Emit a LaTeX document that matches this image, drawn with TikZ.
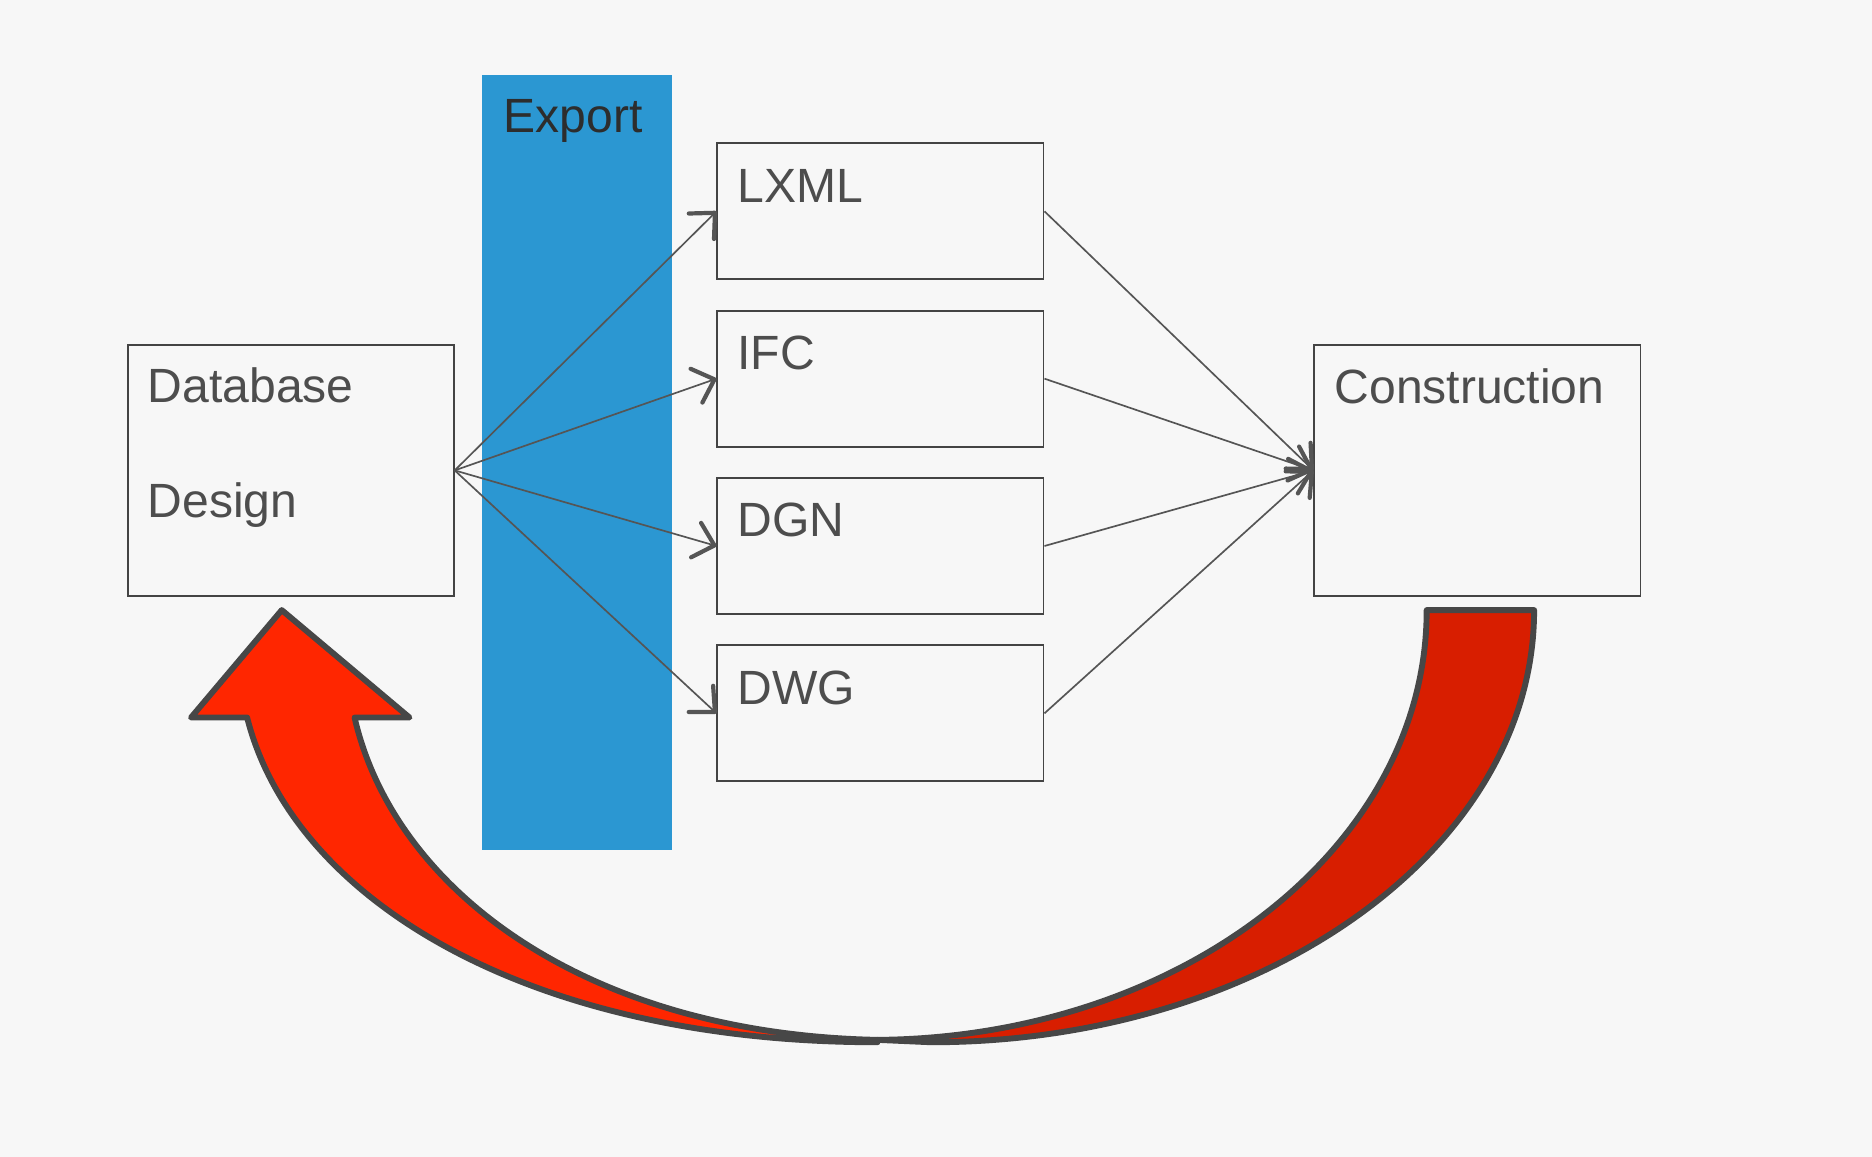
\documentclass[tikz,border=0pt]{standalone}
\usepackage{fontspec}
\setmainfont{Liberation Sans}
\usetikzlibrary{arrows.meta,positioning}

\definecolor{bgcol}{HTML}{F7F7F7}
\definecolor{bandcol}{HTML}{2B97D2}
\definecolor{txtcol}{HTML}{4D4D4D}
\definecolor{exportcol}{HTML}{2D2D2D}
\definecolor{edgecol}{HTML}{444444}
\definecolor{linecol}{HTML}{555555}
\definecolor{redleft}{HTML}{FF2600}
\definecolor{redright}{HTML}{D81E00}
\definecolor{rimcol}{HTML}{474747}

\begin{document}
\begin{tikzpicture}[
        x=0.01cm, y=-0.01cm,
        % Styles des boites
        fmtbox/.style={rectangle, draw=edgecol, line width=0.45pt, fill=bgcol, minimum width=2.73cm, minimum height=1.14cm, inner sep=0pt},
        bigbox/.style={fmtbox, minimum height=2.10cm},
        band/.style={rectangle, fill=bandcol, minimum width=1.59cm, minimum height=6.49cm, inner sep=0pt},
        lbl/.style={font=\fontsize{11.45}{27.3}\selectfont, text=txtcol, inner sep=0pt, anchor=base west},
        % Style des connecteurs
        conn/.style={draw=linecol, line width=0.4pt, -{Straight Barb[length=1.6mm, width=3mm, line width=1pt, round]}},
        returnarrow/.style={draw=rimcol, line width=1.4pt, line join=round}
    ]

    \useasboundingbox[fill=bgcol] (0,0) rectangle (1568,969);

    % Bande Export
    \node[band] (export) at (483.5,387.5) {};
    \node[lbl, text=exportcol] (exportlbl) at ([xshift=0.18cm, yshift=-0.49cm]export.north west) {Export};

    % Boites de formats
    \node[fmtbox] (lxml) at (737.5,177) {};
    \node[fmtbox, below=0.245cm of lxml] (ifc) {};
    \node[fmtbox, below=0.245cm of ifc] (dgn) {};
    \node[fmtbox, below=0.245cm of dgn] (dwg) {};
    \node[lbl] (lxmllbl) at ([xshift=0.17cm, yshift=-0.50cm]lxml.north west) {LXML};
    \node[lbl] (ifclbl) at ([xshift=0.17cm, yshift=-0.50cm]ifc.north west) {IFC};
    \node[lbl] (dgnlbl) at ([xshift=0.17cm, yshift=-0.50cm]dgn.north west) {DGN};
    \node[lbl] (dwglbl) at ([xshift=0.17cm, yshift=-0.50cm]dwg.north west) {DWG};

    % Source et cible
    \node[bigbox] (db) at (243.5,394) {};
    \node[bigbox] (con) at (1237.5,394) {};
    \node[lbl, align=left, anchor=north west] (dblbl) at ([xshift=0.17cm, yshift=-0.19cm]db.north west) {Database\\Design};
    \node[lbl] (conlbl) at ([xshift=0.17cm, yshift=-0.50cm]con.north west) {Construction};

    % Connecteurs
    \foreach \f in {lxml,ifc,dgn,dwg}{
        \draw[conn] (db.east) -- (\f.west);
        \draw[conn] (\f.east) -- (con.west);
    }

    % Grande fleche de retour
    \draw[returnarrow, fill=redright] (1195,511) -- (1285,511)
        .. controls (1285,711) and (1059,873) .. (780,873)
        -- (735,871)
        .. controls (989,869) and (1195,710) .. (1195,511) -- cycle;
    \draw[returnarrow, fill=redleft] (735,871)
        .. controls (490,866) and (330,745) .. (297,601)
        -- (343,601) -- (236,511) -- (160,601) -- (207,601)
        .. controls (245,752) and (440,873) .. (735,873) -- cycle;

\end{tikzpicture}
\end{document}
